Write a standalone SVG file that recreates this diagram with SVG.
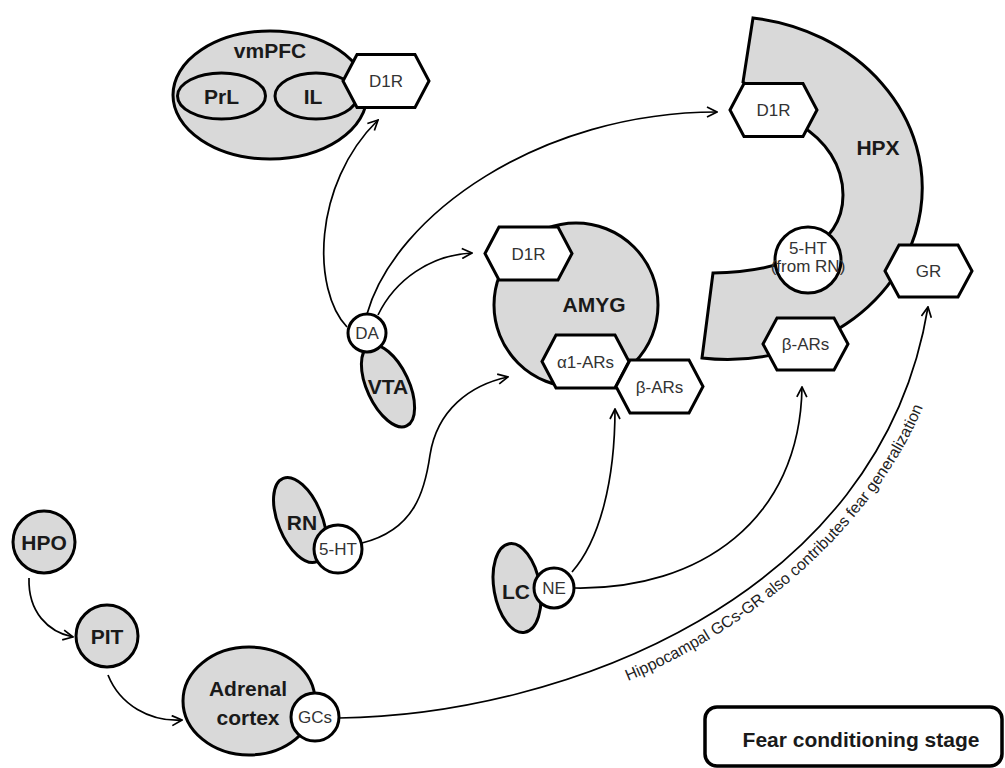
<svg xmlns="http://www.w3.org/2000/svg" width="1005" height="768" viewBox="0 0 1005 768">
<style>
.reg{fill:#d9d9d9;stroke:#000;stroke-width:3}
.rec{fill:#fff;stroke:#000;stroke-width:3}
.lb{font-family:"Liberation Sans",Arial,sans-serif;font-weight:bold;font-size:21px;text-anchor:middle;fill:#1a1a1a}
.tx{font-family:"Liberation Sans",Arial,sans-serif;font-size:17px;text-anchor:middle;fill:#333}
.conn path{fill:none;stroke:#000;stroke-width:1.7}
.arr{marker-end:url(#ah)}
</style>
<defs>
<marker id="ah" viewBox="0 0 12 12" refX="11" refY="6" markerWidth="12" markerHeight="12" markerUnits="userSpaceOnUse" orient="auto">
<path d="M1,1 L11,6 L1,11" fill="none" stroke="#000" stroke-width="1.7"/>
</marker>
<path id="tp" d="M628,681 C753,629 879,523 927,397"/>
</defs>
<rect width="1005" height="768" fill="#fff"/>

<g id="connectors" class="conn">
<path class="arr" d="M29,578 C28,612 48,632 73,637"/>
<path class="arr" d="M108,675 C120,705 150,722 182,720"/>
<path class="arr" d="M339,718 C560,715 880,600 928,307"/>
<path class="arr" d="M347,327 C312,290 312,185 378,120"/>
<path class="arr" d="M367,314 C395,215 540,112 717,112"/>
<path class="arr" d="M378,315 C395,280 430,255 472,253"/>
<path class="arr" d="M362,543 C415,530 425,490 430,455 C437,410 470,385 508,377"/>
<path class="arr" d="M572,572 C600,540 615,480 615,409"/>
<path class="arr" d="M575,588 C700,590 800,520 802,387"/>
</g>
<text id="gr-label" font-family="'Liberation Sans',Arial,sans-serif" font-size="16" fill="#222"><textPath href="#tp">Hippocampal GCs-GR also contributes fear generalization</textPath></text>

<g id="vmPFC">
<ellipse class="reg" cx="270" cy="95" rx="97" ry="64"/>
<text class="lb" x="270" y="58">vmPFC</text>
<ellipse class="reg" cx="221.5" cy="96" rx="44" ry="23"/>
<text class="lb" x="221.5" y="103.5">PrL</text>
<ellipse class="reg" cx="316" cy="96" rx="41" ry="23"/>
<text class="lb" x="313" y="103.5">IL</text>
<polygon class="rec" points="343,81 357,54.5 415,54.5 429,81 415,107.5 357,107.5"/>
<text class="tx" x="386" y="87">D1R</text>
</g>

<g id="HPX">
<path class="reg" d="M753,18 A193,170 0 1 1 702,358 L713,273 C780,272 843,250 843,195 C843,165 825,140 800,125 L743,82 Z"/>
<text class="lb" x="878" y="155">HPX</text>
<polygon class="rec" points="730,110 744,83.5 803,83.5 817,110 803,136.5 744,136.5"/>
<text class="tx" x="773.5" y="116">D1R</text>
<circle class="rec" cx="808" cy="260" r="33"/>
<text class="tx" x="808" y="254" font-size="15">5-HT</text>
<text class="tx" x="808" y="272" font-size="11.5">(from RN)</text>
<polygon class="rec" points="885,271 899,245 958,245 972,271 958,297 899,297"/>
<text class="tx" x="928.5" y="277">GR</text>
<polygon class="rec" points="763,344 777,318 834,318 848,344 834,370 777,370"/>
<text class="tx" x="805.5" y="350">β-ARs</text>
</g>

<g id="AMYG">
<circle class="reg" cx="576" cy="305" r="82"/>
<text class="lb" x="594" y="312">AMYG</text>
<polygon class="rec" points="485,253.5 499,227 558,227 572,253.5 558,280 499,280"/>
<text class="tx" x="528.5" y="259.5">D1R</text>
<polygon class="rec" points="542,361.5 556,335 615,335 629,361.5 615,388 556,388"/>
<text class="tx" x="585.5" y="367.5">α1-ARs</text>
<polygon class="rec" points="616,386.5 630,360 689,360 703,386.5 689,413 630,413"/>
<text class="tx" x="659.5" y="392.5">β-ARs</text>
</g>

<g id="VTA">
<ellipse class="reg" cx="388" cy="386" rx="21" ry="44" transform="rotate(-25 388 386)"/>
<text class="lb" x="388" y="394" font-size="20">VTA</text>
<circle class="rec" cx="367" cy="333" r="19"/>
<text class="tx" x="367" y="339" font-size="16">DA</text>
</g>

<g id="RN">
<ellipse class="reg" cx="300" cy="520" rx="22" ry="45" transform="rotate(-22 300 520)"/>
<text class="lb" x="302" y="530">RN</text>
<circle class="rec" cx="338" cy="549" r="24"/>
<text class="tx" x="338" y="555" font-size="16">5-HT</text>
</g>

<g id="LC">
<ellipse class="reg" cx="517" cy="588" rx="23" ry="45" transform="rotate(-10 517 588)"/>
<text class="lb" x="516" y="599" font-size="20">LC</text>
<circle class="rec" cx="554" cy="588" r="20"/>
<text class="tx" x="554" y="594" font-size="16">NE</text>
</g>

<g id="HPO">
<circle class="reg" cx="44" cy="542" r="31"/>
<text class="lb" x="44" y="550">HPO</text>
</g>

<g id="PIT">
<circle class="reg" cx="107" cy="636" r="31"/>
<text class="lb" x="107" y="644">PIT</text>
</g>

<g id="Adrenal">
<ellipse class="reg" cx="249" cy="701" rx="66" ry="54"/>
<text class="lb" x="248" y="696" font-size="22">Adrenal</text>
<text class="lb" x="248" y="725" font-size="22">cortex</text>
<circle class="rec" cx="315" cy="717" r="24"/>
<text class="tx" x="315" y="723" font-size="16">GCs</text>
</g>

<g id="stage">
<rect x="705" y="707" width="297" height="59" rx="12" fill="#fff" stroke="#000" stroke-width="3.5"/>
<text class="lb" x="861" y="747" font-size="22">Fear conditioning stage</text>
</g>
</svg>
